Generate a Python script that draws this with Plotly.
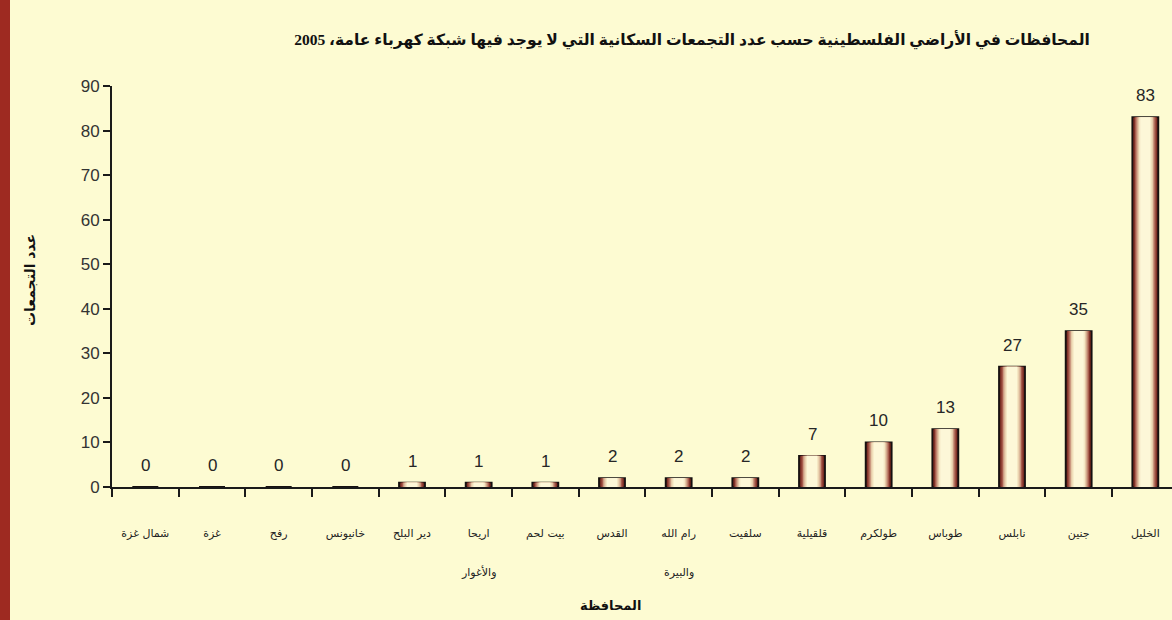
import plotly.graph_objects as go

# ---- data ----
governorates_line1 = ["شمال غزة", "غزة", "رفح", "خانيونس", "دير البلح", "اريحا", "بيت لحم",
                      "القدس", "رام الله", "سلفيت", "قلقيلية", "طولكرم", "طوباس", "نابلس", "جنين", "الخليل"]
governorates_line2 = ["", "", "", "", "", "والأغوار", "", "", "والبيرة", "", "", "", "", "", "", ""]
localities = [0, 0, 0, 0, 1, 1, 1, 2, 2, 2, 7, 10, 13, 27, 35, 83]
y_ticks = [0, 10, 20, 30, 40, 50, 60, 70, 80, 90]

title_text = "المحافظات في الأراضي الفلسطينية حسب عدد التجمعات السكانية التي لا يوجد فيها شبكة كهرباء عامة، 2005"
y_title = "عدد التجمعات"
x_title = "المحافظة"

# ---- style ----
BG = "#FDFBD2"
layer_widths = [0.39, 0.35, 0.31, 0.27, 0.23, 0.19, 0.15]
layer_colors = ["#5e1f16", "#83332a", "#a85d4d", "#cb9880", "#e6caa8", "#f5e7c4", "#fdf7d8"]

fig = go.Figure()
for i, (w, c) in enumerate(zip(layer_widths, layer_colors)):
    fig.add_trace(go.Bar(
        x=governorates_line1, y=localities, width=w,
        marker=dict(color=c, line=dict(color="#151010", width=1.8 if i == 0 else 0)),
        hoverinfo="skip" if i else None, showlegend=False,
    ))

# value labels
for name, v in zip(governorates_line1, localities):
    fig.add_annotation(x=name, y=v, text=str(v), showarrow=False, yanchor="bottom", yshift=10,
                       font=dict(family="Liberation Sans, Arial", size=17, color="#262626"))

# second lines of category labels
for name, t in zip(governorates_line1, governorates_line2):
    if t:
        fig.add_annotation(x=name, y=0, text=t, showarrow=False, yanchor="middle", yshift=-85,
                           font=dict(family="DejaVu Sans", size=11, color="#222222"))

# axis titles
fig.add_annotation(xref="paper", yref="paper", x=(610 - 112) / 1060, y=-(605 - 487) / 401,
                   text=x_title, showarrow=False, yanchor="middle", xanchor="center",
                   font=dict(family="DejaVu Sans", size=13, color="#111111", weight="bold"))
fig.add_annotation(xref="paper", yref="paper", x=(30 - 112) / 1060, y=(487 - 280) / 401,
                   text=y_title, showarrow=False, textangle=-90, yanchor="middle", xanchor="center",
                   font=dict(family="DejaVu Sans", size=14, color="#111111", weight="bold"))

# left red strip
fig.add_shape(type="rect", xref="paper", yref="paper", x0=-112 / 1060, x1=-102 / 1060,
              y0=-133 / 401, y1=(620 - 133) / 401, fillcolor="#9E2A21", line=dict(width=0), layer="below")

fig.update_layout(
    width=1172, height=620,
    margin=dict(l=112, r=0, t=86, b=133),
    paper_bgcolor=BG, plot_bgcolor=BG,
    barmode="overlay",
    title=dict(text=title_text, x=692 / 1172, xanchor="center", xref="container",
               y=1 - 40 / 620, yanchor="middle",
               font=dict(family="Liberation Serif, DejaVu Sans", size=15.5, color="#111111", weight="bold")),
    xaxis=dict(
        type="category", range=[-0.5, 15.4],
        showgrid=False, zeroline=False,
        showline=True, linecolor="#1a1a1a", linewidth=2,
        ticks="outside", tickson="boundaries", ticklen=8, tickwidth=2, tickcolor="#1a1a1a",
        ticklabelstandoff=35,
        tickfont=dict(family="DejaVu Sans", size=11, color="#222222"),
    ),
    yaxis=dict(
        range=[0, 90], tickmode="array", tickvals=y_ticks,
        showgrid=False, zeroline=False,
        showline=True, linecolor="#1a1a1a", linewidth=2,
        ticks="outside", ticklen=7, tickwidth=2, tickcolor="#1a1a1a",
        tickfont=dict(family="Liberation Sans, Arial", size=17, color="#333333"),
    ),
)

fig.write_html("out.html", config={"displayModeBar": False},
               post_script="document.body.style.margin='0';")
